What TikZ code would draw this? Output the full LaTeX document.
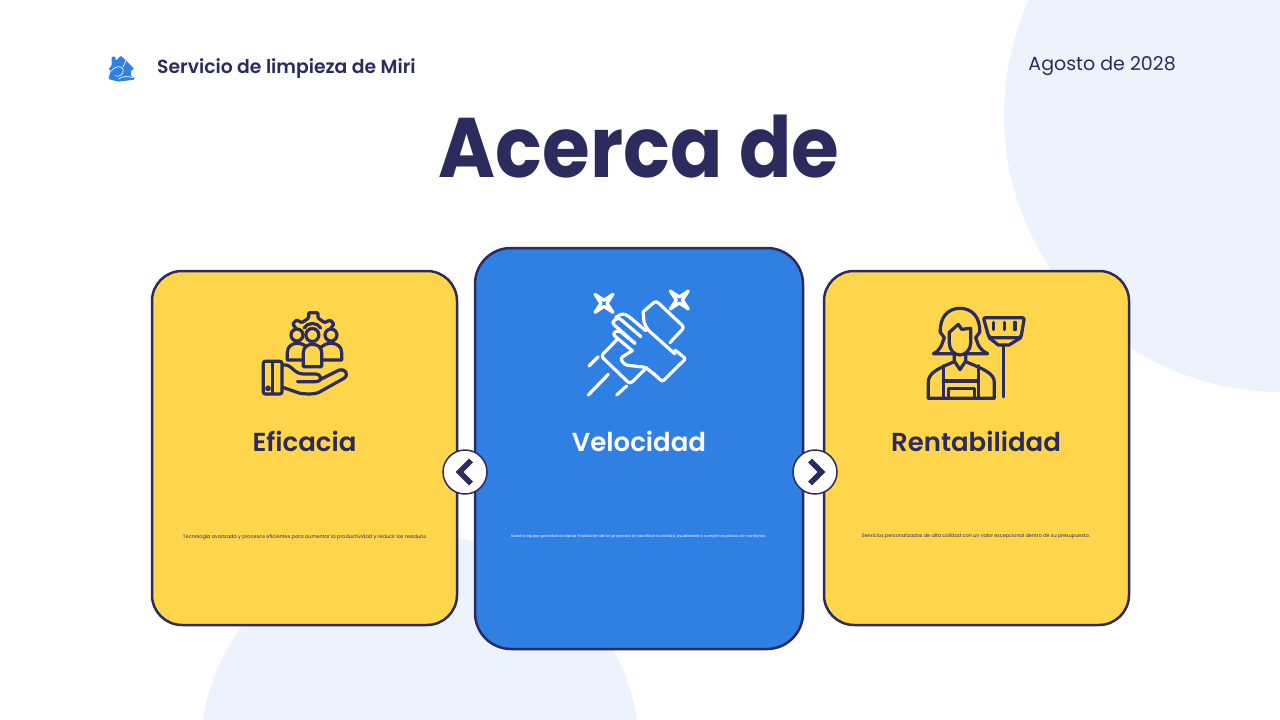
\documentclass[tikz,border=0pt]{standalone}
\usepackage{fontspec}
\setmainfont{Poppins}
\newfontfamily\semi{Poppins SemiBold}
\definecolor{navy}{HTML}{2B2B5E}
\definecolor{sun}{HTML}{FFD54C}
\definecolor{sky}{HTML}{2F80E2}
\definecolor{pale}{HTML}{EDF3FC}
\tikzset{
 sidecard/.style={draw=navy,line width=2.5pt,fill=sun,rounded corners=30pt,minimum width=305pt,minimum height=354pt,inner sep=0pt},
 midcard/.style={draw=navy,line width=2.5pt,fill=sky,rounded corners=36pt,minimum width=328pt,minimum height=401pt,inner sep=0pt},
 cardtitle/.style={font=\fontsize{26}{30}\selectfont\semi,inner sep=0pt,text=navy},
 cardtext/.style={inner sep=0pt,text=navy},
 navbtn/.style={circle,draw=navy,line width=1.5pt,fill=white,minimum size=44pt,inner sep=0pt},
 chev/.style={draw=navy,line width=5.4pt,line join=miter},
 ic/.style={line width=3.2pt,line cap=round,line join=round},
}
\begin{document}
\begin{tikzpicture}[x=1pt,y=-1pt]
\useasboundingbox (0,0) rectangle (1280,720);
\fill[white] (0,0) rectangle (1280,720);
\begin{scope}
\clip (0,0) rectangle (1280,720);
\fill[pale] (1281,115) circle (277);
\fill[pale] (420,755) circle (220);
\end{scope}
% header
\begin{scope}[shift={(95,45)},x=.3333pt,y=-.3333pt]
\fill[sky,rounded corners=1pt] (40,72) -- (50,62) -- (50,35) -- (62,35) -- (62,48) -- (78,32) -- (118,72) -- (108,76) -- (108,94) -- (120,98) -- (118,104) -- (70,110) -- (40,102) -- (48,76) -- cycle;
\draw[white,line width=.7pt] (98,36) -- (84,66) (48,78) .. controls (60,62) and (80,62) .. (84,72) .. controls (88,88) and (72,98) .. (60,92) (70,102) .. controls (85,92) and (100,94) .. (116,98);
\end{scope}
\node[anchor=west,inner sep=0pt,text=navy,xscale=.988,font=\fontsize{19}{22}\selectfont\semi] (brand) at (157,69) {Servicio de limpieza de Miri};
\node[anchor=east,inner sep=0pt,text=navy,font=\fontsize{19}{24}\selectfont] (date) at (1176,66) {Agosto de 2028};
\node[anchor=base,inner sep=0pt,text=navy,xscale=.915,font=\fontsize{84.5}{100}\selectfont\bfseries] (title) at (639,177) {Acerca de};
% cards
\node[sidecard] (c1) at (304.5,448) {};
\node[sidecard] (c3) at (976.5,448) {};
\node[midcard] (c2) at (639,448.5) {};
\node[cardtitle] (t1) at (304.5,441) {Eficacia};
\node[cardtitle,text=white] (t2) at (639,441) {Velocidad};
\node[cardtitle] (t3) at (976,441) {Rentabilidad};
\node[cardtext,font=\fontsize{4.97}{6}\selectfont] (d1) at (305,537) {Tecnología avanzada y procesos eficientes para aumentar la productividad y reducir los residuos.};
\node[cardtext,text=white,font=\fontsize{3.75}{6}\selectfont] (d2) at (638.5,536.5) {Nuestro equipo garantiza la rápida finalización de los proyectos sin sacrificar la calidad, ayudándole a cumplir los plazos con confianza.};
\node[cardtext,font=\fontsize{4.93}{6}\selectfont] (d3) at (976,536) {Servicios personalizados de alta calidad con un valor excepcional dentro de su presupuesto.};
% buttons
\node[navbtn] (bl) at (465,472) {};
\node[navbtn] (br) at (815,472) {};
\draw[chev] (471,460.5) -- (459.5,472) -- (471,483.5);
\draw[chev] (810,460.5) -- (821.5,472) -- (810,483.5);
% icon 1
\begin{scope}[shift={(250,300)},x=.3333pt,y=-.3333pt,navy,ic]
\draw[rounded corners=2pt] (40,184) -- (96,184) -- (96,282) -- (40,282) -- cycle;
\draw (68,186) -- (68,280);
\draw (54,265) circle (1.5pt);
\draw (98,195) .. controls (125,190) and (130,222) .. (160,222) -- (195,222) .. controls (215,222) and (220,243) .. (198,245) -- (142,245);
\draw (212,238) -- (268,210) .. controls (285,204) and (300,225) .. (280,236) -- (205,278) .. controls (190,284) and (165,282) .. (150,280) -- (98,262);
% gear
\draw[rounded corners=1pt] (140,88) -- (128,72) -- (140,60) -- (156,68) -- (176,54) -- (176,38) -- (204,38) -- (204,54) -- (224,68) -- (240,60) -- (252,72) -- (240,88);
\draw[fill=sun] (141,105) circle (6pt);
\draw[fill=sun] (243,105) circle (6pt);
% side persons
\draw[fill=sun] (160,180) -- (112,180) -- (112,158) .. controls (112,140) and (125,130) .. (142,130) .. controls (155,130) and (165,135) .. (170,142);
\draw[fill=sun] (215,180) -- (275,180) -- (275,158) .. controls (275,140) and (262,130) .. (243,130) .. controls (230,130) and (220,135) .. (212,142);
% centre person
\draw[fill=sun] (160,200) -- (160,158) .. controls (160,142) and (172,133) .. (187,133) .. controls (203,133) and (215,142) .. (215,158) -- (215,200) -- cycle;
\draw[fill=sun] (187,105) circle (6.5pt);
\draw (162,84) .. controls (172,66) and (202,66) .. (212,84);
\end{scope}
% icon 2
\begin{scope}[shift={(575,280)},x=.3333pt,y=-.3333pt,white,ic]
\foreach \cx/\cy in {87/70,313/60}{
 \begin{scope}[shift={(\cx,\cy)}]
 \draw (-27,-27) -- (-9,0) -- (-27,27) -- (0,9) -- (27,27) -- (9,0) -- (27,-27) -- (0,-9) -- cycle;
 \end{scope}
}
\draw[rounded corners=3pt] (205,95) -- (243,62) -- (328,142) -- (285,188);
\draw[rounded corners=3pt] (125,180) -- (78,228) -- (165,312) -- (215,263);
\draw[rounded corners=2pt] (300,210) -- (332,236) -- (262,305) -- (235,280);
\draw (42,258) -- (70,230) (40,345) -- (100,283) (125,345) -- (155,318);
\draw[rounded corners=3pt] (212,152) -- (160,108) -- (143,100) -- (122,112);
\draw[rounded corners=3pt] (198,170) -- (130,112) -- (110,128) -- (180,190);
\draw[rounded corners=3pt] (180,190) -- (130,150) -- (112,162) -- (172,212);
\draw (205,95) .. controls (205,120) and (205,135) .. (225,155) -- (300,222);
\draw[rounded corners=3pt] (172,212) -- (135,235) -- (150,255) -- (212,262) -- (240,285);
\end{scope}
% icon 3
\begin{scope}[shift={(915,295)},x=.3333pt,y=-.3333pt,navy,ic]
\draw (80,150) -- (88,128) -- (76,112) .. controls (74,65) and (100,40) .. (135,40) .. controls (170,40) and (196,65) .. (194,112) -- (182,128) -- (190,150) .. controls (195,160) and (205,170) .. (218,176) -- (55,176) .. controls (68,170) and (75,160) .. (80,150);
\draw[fill=sun] (103,112) -- (130,88) -- (140,103) -- (167,100) -- (167,145) .. controls (167,165) and (150,180) .. (135,180) .. controls (118,180) and (103,165) .. (103,145) -- cycle;
\draw (118,178) -- (118,198) -- (135,224) -- (152,198) -- (152,178);
\draw (40,310) -- (40,262) .. controls (40,235) and (65,222) .. (118,200);
\draw (152,200) .. controls (205,222) and (238,235) .. (238,262) -- (238,310) -- (40,310);
\draw (85,212) -- (85,310) (190,212) -- (190,310) (85,258) -- (190,258);
\draw (100,310) -- (100,280) -- (178,280) -- (178,310);
\draw[rounded corners=2pt] (205,68) -- (328,68) -- (318,128) -- (222,128) -- cycle;
\draw (222,128) -- (250,150) -- (282,150) -- (318,128);
\draw (236,82) -- (236,104) (268,82) -- (268,104) (300,82) -- (300,104);
\draw[line width=3.6pt] (265,150) -- (265,305);
\end{scope}
\end{tikzpicture}
\end{document}
